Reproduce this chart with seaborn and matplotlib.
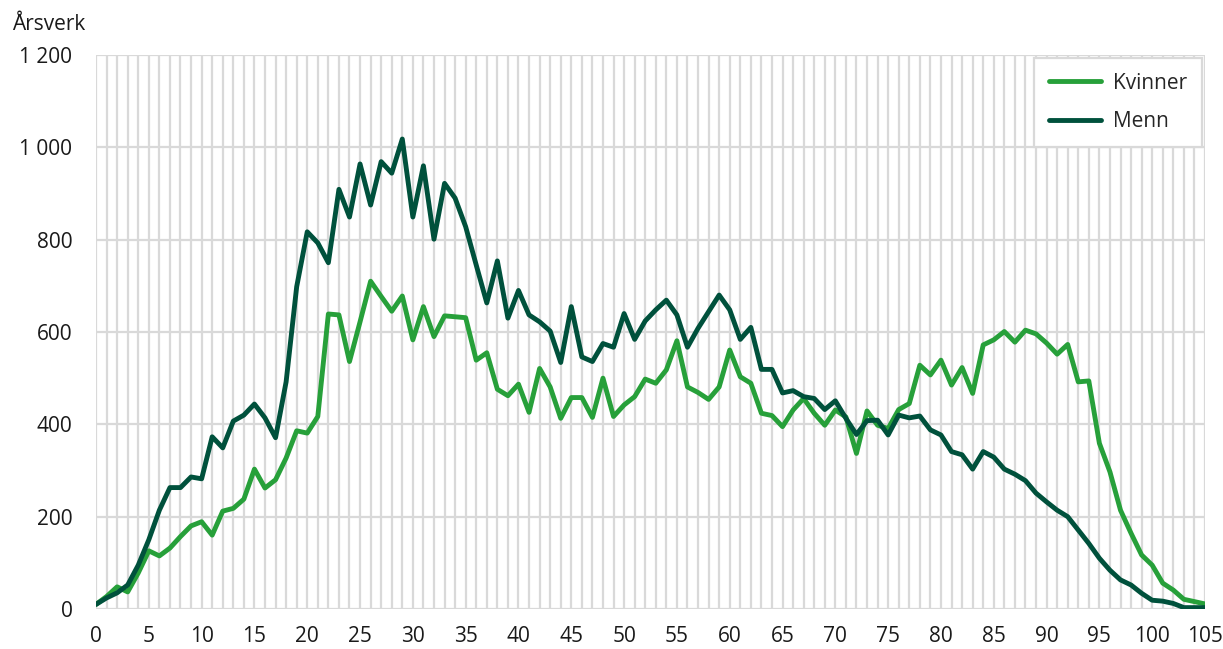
import numpy as np
import pandas as pd
import seaborn as sns
import matplotlib.pyplot as plt
from matplotlib.ticker import FuncFormatter, MultipleLocator

# Årsverk etter alder (0-105)
alder = list(range(0, 106))

kvinner = [10, 27, 48, 37, 78, 126, 115, 132, 157, 180,
           189, 160, 212, 218, 238, 303, 262, 280, 327, 386,
           381, 417, 639, 637, 536, 622, 710, 677, 645, 678,
           583, 655, 590, 635, 633, 631, 539, 555, 476, 462,
           487, 426, 521, 481, 413, 458, 458, 415, 500, 417,
           442, 460, 498, 489, 518, 581, 481, 469, 454, 481,
           561, 503, 489, 424, 419, 395, 431, 456, 424, 398,
           431, 416, 337, 429, 398, 391, 432, 445, 528, 507,
           539, 485, 523, 467, 572, 583, 601, 578, 604, 596,
           576, 552, 573, 492, 494, 359, 297, 214, 164, 117,
           95, 56, 41, 21, 16, 11]

menn = [10, 24, 35, 52, 95, 150, 214, 263, 263, 286,
        282, 373, 349, 407, 420, 444, 414, 371, 492, 698,
        817, 793, 750, 909, 849, 964, 875, 969, 944, 1018,
        849, 960, 801, 922, 890, 828, 745, 663, 754, 630,
        690, 637, 622, 602, 534, 655, 546, 536, 575, 567,
        640, 584, 624, 648, 669, 637, 567, 608, 644, 680,
        648, 584, 610, 519, 519, 468, 473, 460, 456, 432,
        451, 413, 378, 408, 409, 377, 420, 414, 418, 388,
        377, 341, 334, 303, 341, 329, 303, 292, 278, 251,
        232, 214, 200, 171, 142, 110, 84, 63, 52, 34,
        19, 17, 12, 3, 3, 3]

df = pd.DataFrame({
    "Alder": alder * 2,
    "Årsverk": kvinner + menn,
    "Kjønn": ["Kvinner"] * len(alder) + ["Menn"] * len(alder),
})

sns.set_style("white")
plt.rcParams["font.family"] = ["Open Sans", "DejaVu Sans"]

fig = plt.figure(figsize=(12.23, 6.49), dpi=100)
ax = fig.add_axes([96 / 1223, 1 - 609 / 649, (1205 - 96) / 1223, (609 - 55) / 649])

sns.lineplot(data=df, x="Alder", y="Årsverk", hue="Kjønn",
             palette={"Kvinner": "#27a03a", "Menn": "#00513c"},
             linewidth=3.5, ax=ax, zorder=3)

ax.set_xlim(0, 105)
ax.set_ylim(0, 1200)
ax.xaxis.set_major_locator(MultipleLocator(5))
ax.xaxis.set_minor_locator(MultipleLocator(1))
ax.yaxis.set_major_locator(MultipleLocator(200))
ax.yaxis.set_major_formatter(FuncFormatter(lambda v, p: f"{int(v):,}".replace(",", " ")))

ax.grid(True, which="both", axis="x", color="#d9d9d9", linewidth=1.6)
ax.grid(True, which="major", axis="y", color="#d9d9d9", linewidth=1.6)
ax.set_axisbelow(True)
for s in ax.spines.values():
    s.set_visible(False)

ax.tick_params(axis="both", which="both", length=0, labelsize=15, colors="#1a1a1a")
ax.tick_params(axis="y", pad=17)
ax.tick_params(axis="x", pad=12)
ax.set_xlabel("")
ax.set_ylabel("")

fig.text(12 / 1223, 1 - 24 / 649, "Årsverk", fontsize=15, color="#1a1a1a",
         ha="left", va="center")

leg = ax.legend(loc="upper right", fontsize=15, frameon=True, fancybox=False,
                edgecolor="#d9d9d9", framealpha=1, borderpad=0.7,
                labelspacing=0.85, handlelength=2.5, handletextpad=0.6,
                borderaxespad=0.15)
leg.get_frame().set_linewidth(1.6)
for h in leg.get_lines():
    h.set_linewidth(3.5)
    h.set_solid_capstyle("round")

fig.savefig("out.png", dpi=100)
